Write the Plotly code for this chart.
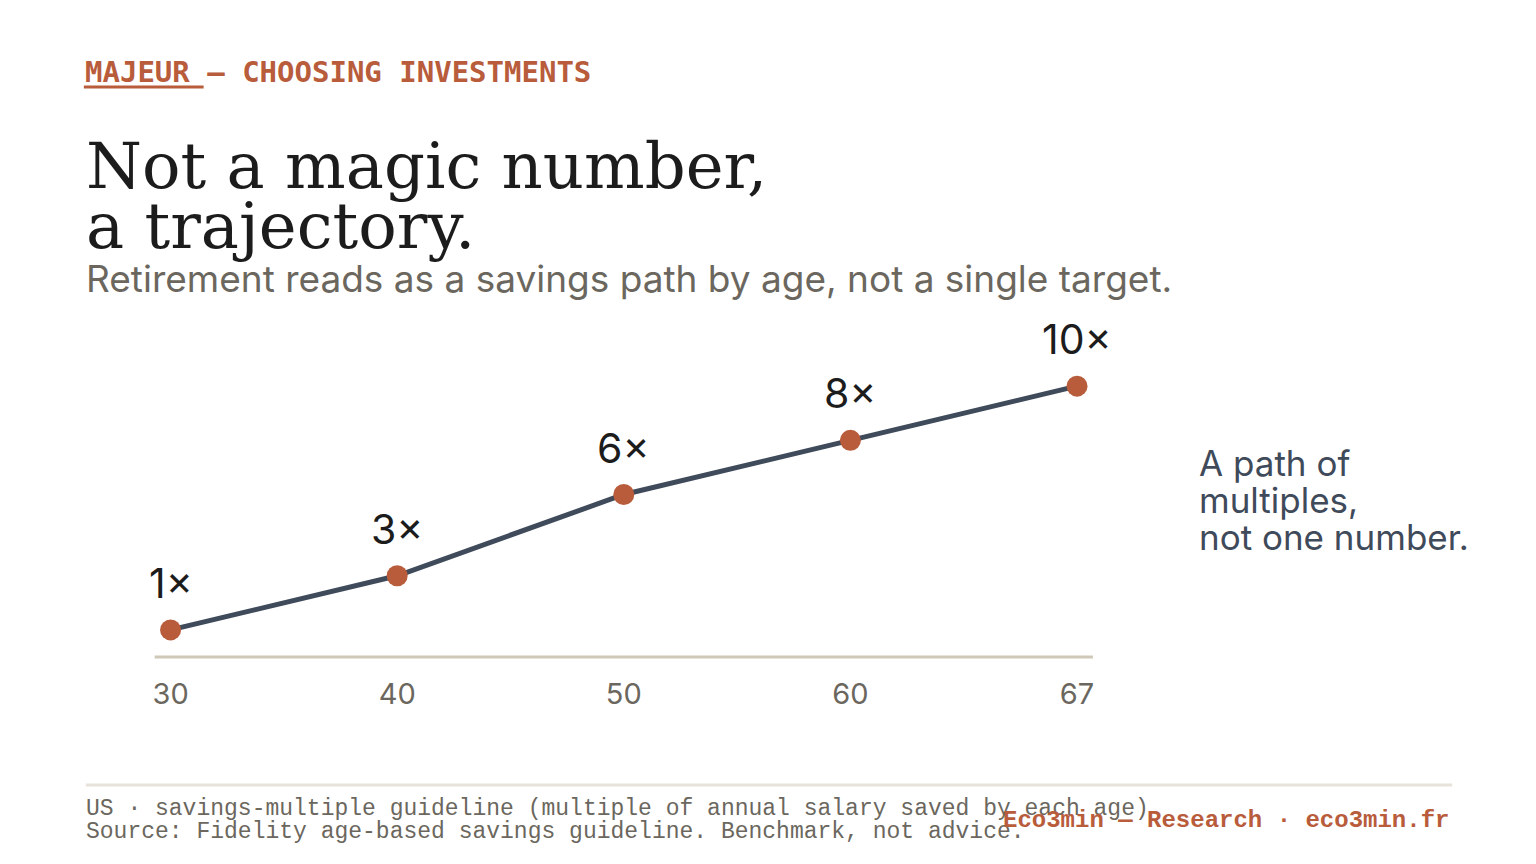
import plotly.graph_objects as go

ages = ["30", "40", "50", "60", "67"]
multiples = [1, 3, 6, 8, 10]
labels = ["1×", "3×", "6×", "8×", "10×"]

W, H = 1536, 864
OFF = 8
def px(x): return (x - OFF) / W
def py(y): return 1 - (y - OFF) / H

ORANGE = "#b85c3c"
GRAY = "#6b675e"
LINE = "#3f4a5a"

fig = go.Figure()
fig.add_trace(go.Scatter(
    x=ages, y=multiples, mode="lines+markers",
    line=dict(color=LINE, width=5),
    marker=dict(color=ORANGE, size=21),
    cliponaxis=False, hoverinfo="skip"))

for i, (m, t) in enumerate(zip(multiples, labels)):
    fig.add_annotation(x=i, y=m, text=t, showarrow=False, yanchor="bottom", yshift=20,
                       font=dict(family="Inter", size=41, color="#1c1c1c"))

fig.update_layout(
    width=W, height=H, margin=dict(l=0, r=0, t=0, b=0),
    paper_bgcolor="white", plot_bgcolor="white", showlegend=False,
    xaxis=dict(domain=[px(153), px(1093)], type="category", range=[-0.07, 4.07],
               showgrid=False, zeroline=False, showline=False, ticks="",
               tickfont=dict(family="Inter", size=29, color=GRAY), ticklabelstandoff=17),
    yaxis=dict(domain=[py(657), py(332)], range=[0, 12], visible=False, fixedrange=True),
)

shapes = [
    dict(type="line", xref="paper", yref="paper", x0=px(153), x1=px(1093), y0=py(657), y1=py(657),
         line=dict(color="#cfc7b8", width=3)),
    dict(type="line", xref="paper", yref="paper", x0=px(82), x1=px(202), y0=py(87), y1=py(87),
         line=dict(color=ORANGE, width=3)),
    dict(type="line", xref="paper", yref="paper", x0=px(84), x1=px(1453), y0=py(785), y1=py(785),
         line=dict(color="#e8e3da", width=3)),
]
fig.update_layout(shapes=shapes)

def ann(x, y, text, size, color, family, xanchor="left", yanchor="middle", **kw):
    fig.add_annotation(xref="paper", yref="paper", x=px(x), y=py(y), text=text, showarrow=False,
                       xanchor=xanchor, yanchor=yanchor, align="left",
                       font=dict(size=size, color=color, family=family), **kw)

ann(81, 72, "<b>MAJEUR — CHOOSING INVESTMENTS</b>", 29, ORANGE, "DejaVu Sans Mono")
ann(82, 166, "Not a magic number,", 64, "#1c1c1c", "DejaVu Serif")
ann(82, 226, "a trajectory.", 64, "#1c1c1c", "DejaVu Serif")
ann(82, 278, "Retirement reads as a savings path by age, not a single target.", 37, GRAY, "Inter")
for i, t in enumerate(["A path of", "multiples,", "not one number."]):
    ann(1197, 463 + 37 * i, t, 35, LINE, "Inter")
ann(82, 809, "US · savings-multiple guideline (multiple of annual salary saved by each age)", 23, GRAY, "Liberation Mono")
ann(82, 832, "Source: Fidelity age-based savings guideline. Benchmark, not advice.", 23, GRAY, "Liberation Mono")
ann(1452, 820, "<b>Eco3min — Research · eco3min.fr</b>", 24, ORANGE, "Liberation Mono", xanchor="right")

fig.write_html("out.html")
